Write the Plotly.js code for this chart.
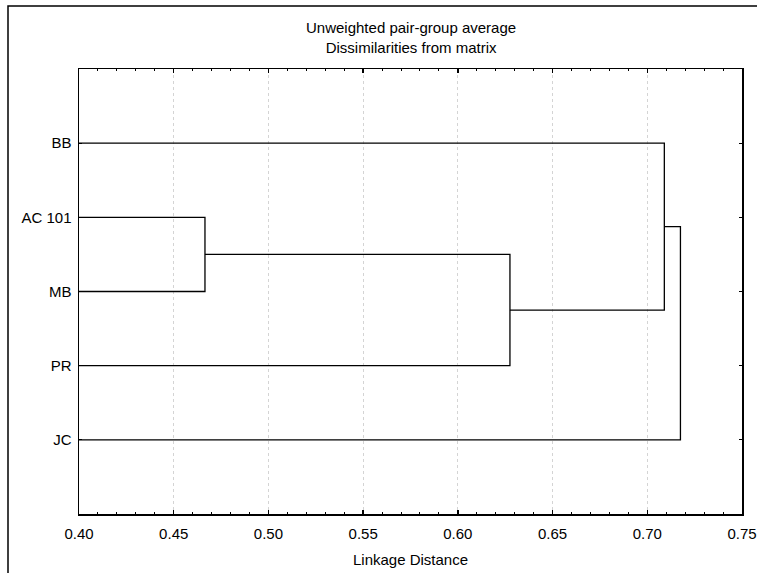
<!DOCTYPE html>
<html>
<head>
<meta charset="utf-8">
<script src="https://cdn.plot.ly/plotly-3.0.1.min.js"></script>
<style>html,body{margin:0;padding:0;background:#fff;overflow:hidden;}#chart{width:757px;height:573px;}</style>
</head>
<body>
<div id="chart"></div>
<script>
// Leaf labels (top to bottom)
const labels = ['BB', 'AC 101', 'MB', 'PR', 'JC'];
// Linkage: cluster ids 0..4 are leaves, merge k creates cluster 5+k
const mergeA = [1, 5, 0, 7];
const mergeB = [2, 3, 6, 4];
const mergeHeight = [0.4665, 0.6275, 0.709, 0.7175];
const xTicks = [0.40, 0.45, 0.50, 0.55, 0.60, 0.65, 0.70, 0.75];
const xTickText = ['0.40', '0.45', '0.50', '0.55', '0.60', '0.65', '0.70', '0.75'];

const base = 0.40;
const posX = [], posY = [];
labels.forEach((l, i) => { posX.push(base); posY.push(i + 1); });
const lx = [], ly = [];
mergeA.forEach((a, k) => {
  const b = mergeB[k], h = mergeHeight[k];
  lx.push(posX[a], h, h, posX[b], null);
  ly.push(posY[a], posY[a], posY[b], posY[b], null);
  posX.push(h);
  posY.push((posY[a] + posY[b]) / 2);
});

const font = {family: 'Liberation Sans, Arial, sans-serif', size: 15, color: '#000'};

const trace = {
  x: lx, y: ly, type: 'scatter', mode: 'lines',
  line: {color: '#000', width: 1.3, shape: 'linear'},
  hoverinfo: 'skip', showlegend: false, cliponaxis: true
};

const L = 79, R = 15, T = 69, B = 59;
const pw = 757 - L - R, ph = 573 - T - B;

const layout = {
  width: 757, height: 573,
  margin: {l: L, r: R, t: T, b: B, pad: 0},
  paper_bgcolor: '#fff', plot_bgcolor: '#fff',
  font: font,
  showlegend: false,
  annotations: [{
    text: 'Unweighted pair-group average<br>Dissimilarities from matrix',
    font: font, showarrow: false,
    xref: 'paper', yref: 'paper',
    x: 0.5, xanchor: 'center',
    y: 1 + (T - 37) / ph, yanchor: 'middle', align: 'center'
  }],
  xaxis: {
    range: [0.40, 0.75],
    tickvals: xTicks, ticktext: xTickText,
    ticks: 'inside', ticklen: 4, tickwidth: 1.5, tickcolor: '#000',
    showline: true, linecolor: '#000', linewidth: 1.5, mirror: 'allticks',
    showgrid: true, gridcolor: '#d4d4d4', griddash: 'dot', gridwidth: 1,
    zeroline: false,
    minor: {dtick: 0.01, ticks: 'inside', ticklen: 2, tickwidth: 1, tickcolor: '#000', showgrid: false},
    tickfont: font,
    ticklabelstandoff: 5,
    title: {text: 'Linkage Distance', font: font, standoff: 14}
  },
  yaxis: {
    range: [6, 0],
    tickvals: [1, 2, 3, 4, 5], ticktext: labels,
    ticks: 'inside', ticklen: 3, tickwidth: 1, tickcolor: '#000',
    showline: true, linecolor: '#000', linewidth: 1.5, mirror: 'allticks',
    showgrid: false, zeroline: false,
    tickfont: font,
    ticklabelstandoff: 3
  },
  shapes: [{
    type: 'rect', xref: 'paper', yref: 'paper',
    x0: (8 - L) / pw, x1: (900 - L) / pw,
    y0: -(700 - (T + ph)) / ph, y1: 1 + (T - 6) / ph,
    line: {color: '#000', width: 1.5}, fillcolor: 'rgba(0,0,0,0)', layer: 'above'
  }]
};

Plotly.newPlot('chart', [trace], layout, {staticPlot: true, displayModeBar: false});
</script>
</body>
</html>
